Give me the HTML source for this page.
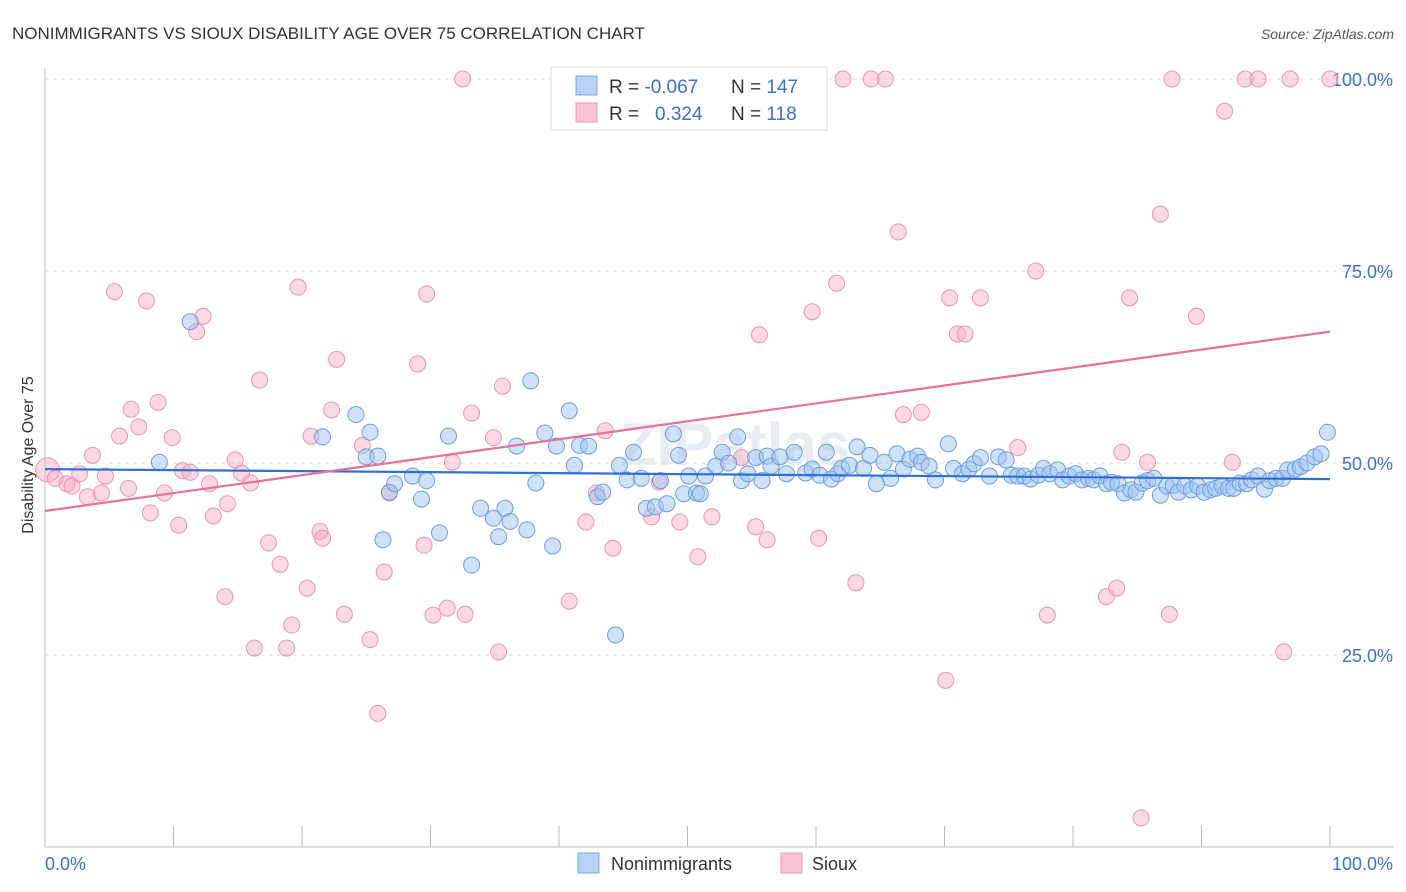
<!DOCTYPE html>
<html><head><meta charset="utf-8"><style>
body{margin:0;background:#fff;font-family:"Liberation Sans",sans-serif;}
#wrap{position:relative;width:1406px;height:892px;overflow:hidden;}
</style></head><body>
<div id="wrap">
<svg id="svg" width="1406" height="892" xmlns="http://www.w3.org/2000/svg">
<text x="12" y="39" font-size="17" fill="#333">NONIMMIGRANTS VS SIOUX DISABILITY AGE OVER 75 CORRELATION CHART</text>
<text x="1394" y="39" font-size="14" fill="#555" font-style="italic" text-anchor="end">Source: ZipAtlas.com</text>
<text transform="translate(33,455) rotate(-90)" font-size="16" fill="#333" text-anchor="middle">Disability Age Over 75</text>
<text x="620" y="465" font-size="60" fill="#e8edf3" font-weight="bold">ZIPatlas</text>
<g id="grid"></g><g id="pts"></g><g id="lines"></g>
<g>
<rect x="551" y="67" width="276" height="63" fill="#fff" stroke="#ddd"/>
<rect x="576" y="76" width="21" height="19" fill="#b7d2f3" stroke="#7aa7e3"/>
<rect x="576" y="103" width="21" height="19" fill="#f8c3d3" stroke="#ee9ab5"/>
<text x="609" y="93" font-size="19" fill="#333">R = <tspan fill="#3b6fd4">-0.067</tspan><tspan x="731">N = </tspan><tspan fill="#3b6fd4">147</tspan></text>
<text x="609" y="120" font-size="19" fill="#333">R = <tspan x="655" fill="#3b6fd4">0.324</tspan><tspan x="731">N = </tspan><tspan fill="#3b6fd4">118</tspan></text>
</g>
<g>
<rect x="578" y="853" width="21" height="20" fill="#b7d2f3" stroke="#7aa7e3"/>
<text x="611" y="870" font-size="18" fill="#333">Nonimmigrants</text>
<rect x="781" y="853" width="21" height="20" fill="#f8c3d3" stroke="#ee9ab5"/>
<text x="812" y="870" font-size="18" fill="#333">Sioux</text>
</g>
</svg>
</div>
<script>
const blueX=[8.9,11.3,21.6,24.2,25.3,25.0,25.9,26.3,26.8,27.2,28.6,29.3,29.7,30.7,31.4,33.2,33.9,34.9,35.3,35.8,36.2,36.7,37.5,37.8,38.2,38.9,39.5,39.8,40.8,41.2,41.6,42.3,43.0,43.4,44.4,44.7,45.3,45.8,46.4,46.8,47.5,47.9,48.4,48.9,49.3,49.7,50.1,50.7,51.0,51.4,52.2,52.7,53.2,53.9,54.2,54.7,55.3,55.8,56.2,56.5,57.2,57.7,58.3,59.2,59.7,60.3,60.8,61.2,61.7,62.0,62.6,63.2,63.7,64.2,64.7,65.3,65.8,66.3,66.8,67.3,67.9,68.2,68.8,69.3,70.3,70.7,71.4,71.9,72.3,72.8,73.5,74.2,74.8,75.2,75.7,76.2,76.7,77.3,77.7,78.2,78.8,79.2,79.7,80.2,80.7,81.2,81.6,82.1,82.6,83.0,83.5,84.0,84.5,84.9,85.4,85.8,86.3,86.8,87.3,87.8,88.2,88.7,89.2,89.7,90.2,90.7,91.1,91.6,92.1,92.5,93.0,93.5,93.9,94.4,94.9,95.3,95.8,96.3,96.7,97.3,97.7,98.2,98.8,99.3,99.8];
const blueY=[50.1,68.4,53.4,56.3,54.0,50.8,50.9,40.0,46.2,47.3,48.3,45.3,47.7,40.9,53.5,36.7,44.1,42.8,40.4,44.1,42.4,52.2,41.3,60.7,47.4,53.9,39.2,52.2,56.8,49.7,52.3,52.2,45.6,46.2,27.6,49.7,47.8,51.4,48.0,44.1,44.3,47.7,44.7,53.8,51.0,46.0,48.3,46.1,46.0,48.3,49.6,51.4,50.0,53.4,47.7,48.6,50.7,47.7,50.9,49.6,50.8,48.6,51.4,48.7,49.2,48.4,51.4,47.9,48.6,49.3,49.7,52.1,49.3,51.0,47.3,50.1,48.0,51.2,49.2,50.5,50.9,50.1,49.6,47.8,52.5,49.3,48.6,49.2,49.9,50.7,48.3,50.8,50.4,48.4,48.3,48.3,47.9,48.4,49.3,48.6,49.1,47.8,48.3,48.6,47.8,48.0,47.8,48.3,47.3,47.5,47.3,46.1,46.5,46.2,47.4,47.7,48.0,45.8,47.0,47.1,46.2,47.0,46.5,47.0,46.2,46.5,46.7,47.0,46.7,46.7,47.4,47.3,47.8,48.3,46.6,47.7,48.0,48.0,49.1,49.2,49.5,50.0,50.8,51.2,54.0];
const pinkX=[0.2,0.8,1.7,2.1,2.7,3.3,3.7,4.4,4.7,5.4,5.8,6.5,6.7,7.3,7.9,8.2,8.8,9.3,9.9,10.4,10.7,11.3,11.8,12.3,12.8,13.1,14.0,14.2,14.8,15.3,16.0,16.3,16.7,17.4,18.3,18.8,19.2,19.7,20.4,20.7,21.4,21.6,22.3,22.7,23.3,24.7,25.3,25.9,26.4,26.8,29.0,29.5,29.7,30.2,31.3,31.7,32.5,32.7,33.2,34.9,35.3,35.6,40.8,42.1,42.9,43.6,44.2,45.4,47.2,47.8,49.4,50.8,51.9,54.2,55.3,55.6,56.2,59.7,60.2,61.6,62.1,63.1,64.3,65.4,66.4,66.8,68.2,70.1,70.4,71.0,71.6,72.8,75.7,77.1,78.0,82.6,83.4,83.8,84.4,85.3,85.8,86.8,87.5,87.7,89.6,91.8,92.4,93.4,94.4,96.4,96.9,100];
const pinkY=[49.1,48.0,47.3,47.0,48.6,45.6,51.0,46.1,48.3,72.3,53.5,46.7,57.0,54.7,71.1,43.5,57.9,46.1,53.3,41.9,49.0,48.8,67.1,69.1,47.3,43.1,32.6,44.7,50.4,48.7,47.4,25.9,60.8,39.6,36.8,25.9,28.9,72.9,33.7,53.5,41.1,40.2,56.9,63.5,30.3,52.3,27.0,17.4,35.8,46.1,62.9,39.3,72.0,30.2,31.1,50.1,100,30.3,56.5,53.3,25.4,60.0,32.0,42.3,46.1,54.2,38.9,100,43.0,47.5,42.3,37.8,43.0,50.7,41.7,66.7,40.0,69.7,40.2,73.4,100,34.4,100,100,80.1,56.3,56.6,21.7,71.5,66.8,66.8,71.5,52.0,75.0,30.2,32.6,33.7,51.4,71.5,3.8,50.1,82.4,30.3,100,69.1,95.8,50.1,100,100,25.4,100,100];
const blueTrend=[49.2,47.9];
const pinkTrend=[43.75,67.1];
const yTicks=[25,50,75,100];
const yTickLabels=["25.0%","50.0%","75.0%","100.0%"];
const xTicks=[0,10,20,30,40,50,60,70,80,90,100];

const NS="http://www.w3.org/2000/svg";
const X0=45,X1=1330,Y0=847,Y100=79;
const sx=v=>X0+(X1-X0)*v/100;
const sy=v=>Y0-(Y0-Y100)*v/100;
function mk(tag,attrs,parent){const e=document.createElementNS(NS,tag);for(const k in attrs)e.setAttribute(k,attrs[k]);parent.appendChild(e);return e;}
const grid=document.getElementById('grid'),pts=document.getElementById('pts'),lines=document.getElementById('lines');
yTicks.forEach((t,i)=>{
  const g=mk('line',{x1:X0,x2:1393,y1:sy(t),y2:sy(t),stroke:'#dcdcdc','stroke-dasharray':'4,4'},grid);
  
  
  const tx=mk('text',{x:1393,y:sy(t)+7,'font-size':18,fill:'#3b6fd4','text-anchor':'end'},grid);
  tx.textContent=yTickLabels[i];
  
  
});
const ax=mk('line',{x1:X0,x2:1393,y1:Y0,y2:Y0,stroke:'#bbb'},grid);


const ay=mk('line',{x1:X0,x2:X0,y1:68,y2:Y0,stroke:'#bbb'},grid);


xTicks.forEach(t=>{
  const l=mk('line',{x1:sx(t),x2:sx(t),y1:826,y2:Y0,stroke:'#bbb'},grid);
  
  
});
const xl0=mk('text',{x:45,y:870,'font-size':18,fill:'#3b6fd4'},grid);xl0.textContent="0.0%";


const xl1=mk('text',{x:1393,y:870,'font-size':18,fill:'#3b6fd4','text-anchor':'end'},grid);xl1.textContent="100.0%";



pinkX.forEach((x,i)=>{
  const c=mk('circle',{cx:sx(x),cy:sy(pinkY[i]),r:i===0?12:8,fill:'rgba(245,170,195,0.45)',stroke:'#ee93b1','stroke-width':1},pts);
  
  
});
blueX.forEach((x,i)=>{
  const c=mk('circle',{cx:sx(x),cy:sy(blueY[i]),r:8,fill:'rgba(160,195,240,0.5)',stroke:'#6c9ee0','stroke-width':1},pts);
  
  
});
const bl=mk('line',{x1:sx(0),y1:sy(blueTrend[0]),x2:sx(100),y2:sy(blueTrend[1]),stroke:'#2f6fd6','stroke-width':2.2},lines);


const pl=mk('line',{x1:sx(0),y1:sy(pinkTrend[0]),x2:sx(100),y2:sy(pinkTrend[1]),stroke:'#e8709a','stroke-width':2.2},lines);


</script>
</body></html>
